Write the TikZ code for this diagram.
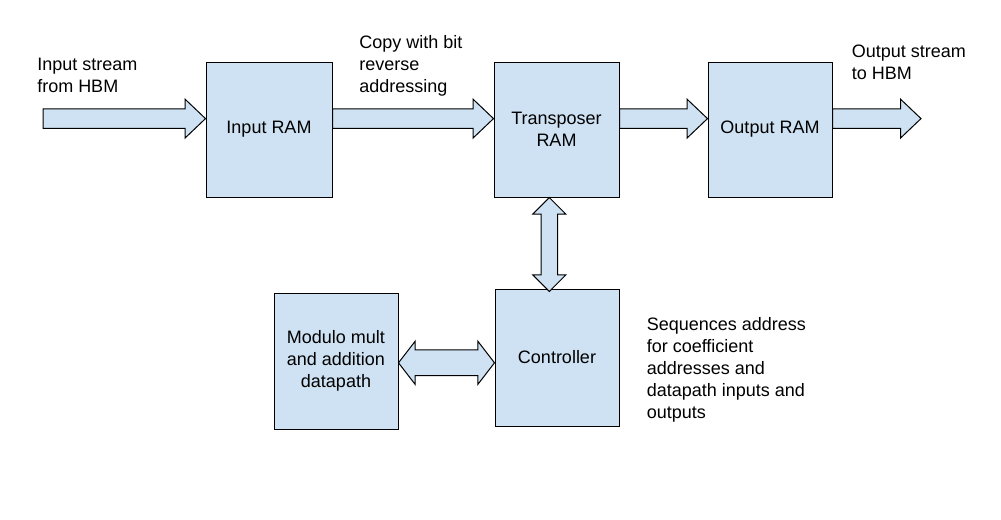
\documentclass[tikz,border=0pt]{standalone}
\usepackage{fontspec}
\setmainfont{Liberation Sans}
\usetikzlibrary{calc}
\definecolor{boxblue}{HTML}{CFE2F3}
\tikzset{
  blk/.style={draw=black, fill=boxblue, line width=0.75pt, minimum width=#1, inner sep=0pt, align=center, font=\fontsize{13.5pt}{16.5pt}\selectfont},
  barrow/.style={draw=black, fill=boxblue, line width=0.75pt, line join=miter},
  lbl/.style={anchor=north west, inner sep=0pt, align=left, font=\fontsize{13.5pt}{16.5pt}\selectfont}
}
\newcommand\rarrow[2]{%
  \draw[barrow] ($(#1)+(0,-9.75)$) -- ($(#2)+(-20.5,-9.75)$) -- ($(#2)+(-20.5,-19.5)$) -- (#2)
   -- ($(#2)+(-20.5,19.5)$) -- ($(#2)+(-20.5,9.75)$) -- ($(#1)+(0,9.75)$) -- cycle;}
\begin{document}
\begin{tikzpicture}[x=0.75pt,y=-0.75pt]
\useasboundingbox (0,0) rectangle (1001,519);
% boxes
\node[blk=94.5pt, minimum height=101.25pt] (inram) at (269,129.5) {Input RAM};
\node[blk=93.75pt, minimum height=101.25pt] (trram) at (556.5,129.5) {Transposer\\RAM};
\node[blk=93pt, minimum height=101.25pt] (outram) at (770,129.5) {Output RAM};
\node[blk=93pt, minimum height=102pt] (mod) at (336,361) {Modulo mult\\and addition\\datapath};
\node[blk=93pt, minimum height=102.75pt] (ctrl) at (557,357.5) {Controller};
% coordinates
\coordinate (src) at (43,118.6);
\coordinate (dst) at (921,118.6);
% horizontal arrows
\rarrow{src}{inram.west |- src}
\rarrow{inram.east |- src}{trram.west |- src}
\rarrow{trram.east |- src}{outram.west |- src}
\rarrow{outram.east |- src}{dst}
% vertical double arrow
\coordinate (vt) at (trram.south -| 549.3,0);
\coordinate (vb) at ($(ctrl.north -| 549.3,0)+(0,3)$);
\draw[barrow] (vt) -- ($(vt)+(16.6,16.7)$) -- ($(vt)+(8.3,16.7)$) -- ($(vb)+(8.3,-16.7)$) -- ($(vb)+(16.6,-16.7)$) -- (vb)
  -- ($(vb)+(-16.6,-16.7)$) -- ($(vb)+(-8.3,-16.7)$) -- ($(vt)+(-8.3,16.7)$) -- ($(vt)+(-16.6,16.7)$) -- cycle;
% horizontal double arrow
\coordinate (hl) at (mod.east |- 0,362.8);
\coordinate (hr) at (ctrl.west |- 0,362.8);
\draw[barrow] (hl) -- ($(hl)+(16.7,-21.65)$) -- ($(hl)+(16.7,-12.85)$) -- ($(hr)+(-16.7,-12.85)$) -- ($(hr)+(-16.7,-21.65)$) -- (hr)
  -- ($(hr)+(-16.7,21.65)$) -- ($(hr)+(-16.7,12.85)$) -- ($(hl)+(16.7,12.85)$) -- ($(hl)+(16.7,21.65)$) -- cycle;
% labels
\node[lbl] (l1) at (37,58.3) {Input stream\\from HBM};
\node[lbl] (l2) at (359,35) {Copy with bit\\reverse\\addressing};
\node[lbl] (l3) at (851.5,45) {Output stream\\to HBM};
\node[lbl] (l4) at (646.5,316.7) {Sequences address\\for coefficient\\addresses and\\datapath inputs and\\outputs};
\end{tikzpicture}
\end{document}
